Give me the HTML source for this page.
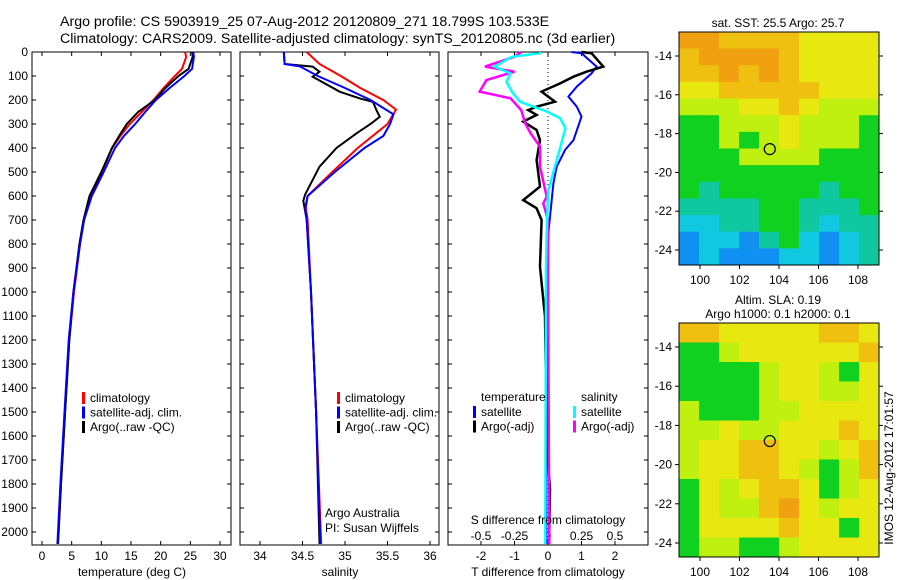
<!DOCTYPE html>
<html><head><meta charset="utf-8"><style>
body{margin:0;background:#fff;}
svg{display:block;font-family:"Liberation Sans",sans-serif;}
</style></head><body>
<svg id="c" width="900" height="580" xmlns="http://www.w3.org/2000/svg">
<text x="60" y="26" font-size="14.2">Argo profile: CS 5903919_25 07-Aug-2012 20120809_271 18.799S 103.533E</text>
<text x="60" y="43" font-size="14.2">Climatology: CARS2009. Satellite-adjusted climatology: synTS_20120805.nc (3d earlier)</text>
</svg>
<script>
// ---- data ----
const tDepth=[0,20,70,100,150,200,250,300,350,400,500,600,700,800,1000,1200,1500,1800,2050];
const tClim=[24.1,24.3,23.6,22.4,20.5,18.8,16.8,14.8,13.2,11.8,10.1,8.3,7.1,6.4,5.4,4.6,3.9,3.2,2.7];
const tSat=[25.5,25.6,25.3,24.0,21.5,19.2,17.4,15.7,13.8,12.3,10.4,8.4,7.1,6.4,5.3,4.5,3.8,3.1,2.6];
const tArgo=[25.3,25.4,24.7,23.0,20.8,19.0,16.2,14.3,13.0,11.8,10.0,8.0,7.0,6.3,5.3,4.6,3.9,3.2,2.7];
const sClimD=[0,50,100,150,200,240,300,400,500,600,650,700,1000,1500,2050];
const sClim=[34.55,34.7,34.95,35.18,35.45,35.6,35.5,35.15,34.85,34.56,34.54,34.56,34.6,34.66,34.72];
const sSatD=[0,50,60,100,150,200,260,300,350,400,500,600,650,700,1000,1500,2050];
const sSat=[34.28,34.29,34.47,34.68,35.0,35.3,35.57,35.53,35.45,35.23,34.88,34.56,34.53,34.55,34.6,34.66,34.71];
const sArgoD=[0,50,61,82,103,166,194,208,242,270,300,338,400,478,594,620,700,1000,1500,2050];
const sArgo=[34.28,34.29,34.62,34.7,34.62,34.94,35.18,35.33,35.37,35.41,35.3,35.14,34.9,34.7,34.53,34.51,34.55,34.6,34.66,34.7];
const dTSatD=[0,5,61,89,144,186,228,269,367,408,478,547,617,756,1033,1500,2050];
const dTSat=[0.7,1.0,1.45,1.3,0.86,0.61,0.86,1.0,0.76,0.51,0.26,0.16,0.11,0.01,-0.02,-0.05,-0.05];
const dTArgoD=[0,5,61,82,103,131,165,207,228,242,262,290,325,367,450,561,617,651,700,894,1033,1100,1400,1620,1820,2050];
const dTArgo=[1.0,1.3,1.65,1.15,0.76,0.36,-0.19,0.21,-0.34,-0.59,-0.34,-0.74,-0.34,-0.24,-0.34,-0.24,-0.74,-0.34,-0.19,-0.24,-0.14,-0.09,-0.06,-0.05,0.06,0.03];
const dSSatD=[0,5,20,61,89,124,165,207,248,276,318,401,500,583,756,900,2050];
const dSSat=[-0.06,-0.06,-0.27,-0.40,-0.28,-0.31,-0.27,-0.21,-0.01,0.09,0.13,0.09,0.04,0,-0.01,-0.015,-0.02];
const dSArgoD=[0,20,61,82,117,165,193,242,297,339,394,478,603,631,700,900,2050];
const dSArgo=[-0.2,-0.25,-0.47,-0.25,-0.46,-0.51,-0.28,-0.20,-0.17,-0.13,-0.06,-0.06,-0.01,-0.035,0,0,0.01];
const depthTicks=[0,100,200,300,400,500,600,700,800,900,1000,1100,1200,1300,1400,1500,1600,1700,1800,1900,2000];
const tTicks=[0,5,10,15,20,25,30];
const sTicks=[34,34.5,35,35.5,36];
const dTTicks=[-2,-1,0,1,2];
const dSTicks=[-0.5,-0.25,0,0.25,0.5];
const lonTicks=[100,102,104,106,108];
const latTicks=[-14,-16,-18,-20,-22,-24];
const sstGrid=[
[7,7,6,6,6,6,5,5,5,5],[6,7,7,7,7,6,5,5,5,5],[6,6,7,6,7,6,5,5,5,5],[5,5,6,6,6,6,6,5,5,5],
[4,4,4,5,5,6,5,4,4,4],[3,3,4,4,4,5,4,4,4,3],[3,3,4,3,4,5,4,4,4,3],[3,3,3,4,4,4,4,3,3,3],
[3,3,3,3,3,3,3,3,3,3],[3,2,3,3,3,3,3,2,3,3],[2,2,2,2,3,3,2,2,2,3],[1,1,2,2,3,3,2,1,2,2],
[0,1,1,0,2,3,1,0,1,2],[0,1,0,0,0,1,1,0,1,2]];
const slaGrid=[
[6,6,5,5,5,5,5,6,6,5],[3,3,4,5,5,5,5,5,5,6],[3,3,3,3,4,5,5,4,3,5],[3,3,3,3,4,5,5,4,4,5],
[4,3,3,3,4,4,5,5,5,5],[4,4,5,4,4,5,5,5,6,5],[4,5,5,6,6,5,5,4,5,6],[4,5,5,6,6,5,4,3,4,6],
[3,5,4,5,6,6,5,3,4,5],[3,5,4,4,6,7,5,4,5,5],[3,5,5,5,5,6,5,5,3,5],[3,4,4,3,3,4,5,5,5,5]];
const argoLon=103.533, argoLat=-18.799;
const cmap=['#1090f0','#10c8e0','#10c8a0','#10d020','#c0f010','#e8e810','#f0c010','#f0a010'];

const svg=document.getElementById('c');
const NS='http://www.w3.org/2000/svg';
function el(tag,attrs,parent){const e=document.createElementNS(NS,tag);for(const k in attrs)e.setAttribute(k,attrs[k]);(parent||svg).appendChild(e);return e;}
function txt(x,y,s,anchor,size){const t=el('text',{x:x,y:y,'font-size':size||12,'text-anchor':anchor||'start'});t.textContent=s;return t;}
const Y0=52, Ypx=0.24;
const yD=d=>Y0+d*Ypx;
function lin(d0,d1,p0,p1){return v=>p0+(v-d0)*(p1-p0)/(d1-d0);}
function frame(x0,x1,y0,y1,name){const r=el('rect',{x:x0,y:y0,width:x1-x0,height:y1-y0,fill:'none',stroke:'#000','stroke-width':1});}
function line(xs,ds,sx,color,name,w){
  const pts=xs.map((v,i)=>sx(v).toFixed(1)+','+yD(ds[i]).toFixed(1)).join(' ');
  const p=el('polyline',{points:pts,fill:'none',stroke:color,'stroke-width':w||2});
  
}
const P=[[32,231],[240,439],[448,648]];
const YB=545;
P.forEach((p,pi)=>{
  frame(p[0],p[1],Y0,YB,'panel-'+(pi+1)+'-frame');
  depthTicks.forEach(d=>{el('line',{x1:p[0],x2:p[0]+4,y1:yD(d),y2:yD(d),stroke:'#000'});el('line',{x1:p[1],x2:p[1]-4,y1:yD(d),y2:yD(d),stroke:'#000'});});
});
depthTicks.forEach(d=>{const t=txt(28,yD(d)+4,String(d),'end');});
const sxT=lin(0,30,42,220);
tTicks.forEach(v=>{el('line',{x1:sxT(v),x2:sxT(v),y1:YB,y2:YB-4,stroke:'#000'});el('line',{x1:sxT(v),x2:sxT(v),y1:Y0,y2:Y0+4,stroke:'#000'});const t=txt(sxT(v),560,String(v),'middle');});
line(tClim,tDepth,sxT,'#f00','temperature-climatology-line');
line(tArgo,tDepth,sxT,'#000','temperature-argo-line');
line(tSat,tDepth,sxT,'#00f','temperature-satellite-line');
{const t=txt(132,576,'temperature (deg C)','middle');}
const sxS=lin(34,36,260,430);
sTicks.forEach(v=>{el('line',{x1:sxS(v),x2:sxS(v),y1:YB,y2:YB-4,stroke:'#000'});el('line',{x1:sxS(v),x2:sxS(v),y1:Y0,y2:Y0+4,stroke:'#000'});const t=txt(sxS(v),560,String(v),'middle');});
line(sClim,sClimD,sxS,'#f00','salinity-climatology-line');
line(sArgo,sArgoD,sxS,'#000','salinity-argo-line');
line(sSat,sSatD,sxS,'#00f','salinity-satellite-line');
{const t=txt(340,576,'salinity','middle');}
{const t=txt(325,517,'Argo Australia');}
{const t=txt(325,532,'PI: Susan Wijffels');}
function legend(x,y,items,name){items.forEach((it,i)=>{const yy=y+i*14.5;el('rect',{x:x,y:yy-10,width:3,height:12,fill:it[1]});const t=txt(x+8,yy,it[0]);});}
legend(82,402,[['climatology','#f00'],['satellite-adj. clim.','#00f'],['Argo(..raw -QC)','#000']],'panel-1-legend-entry');
legend(337,402,[['climatology','#f00'],['satellite-adj. clim.','#00f'],['Argo(..raw -QC)','#000']],'panel-2-legend-entry');
const sxDT=lin(0,1,548,581.5), sxDS=lin(0,1,548,682);
el('line',{x1:548,x2:548,y1:Y0,y2:YB,stroke:'#000','stroke-dasharray':'1,3'});
dTTicks.forEach(v=>{el('line',{x1:sxDT(v),x2:sxDT(v),y1:YB,y2:YB-4,stroke:'#000'});el('line',{x1:sxDT(v),x2:sxDT(v),y1:Y0,y2:Y0+4,stroke:'#000'});const t=txt(sxDT(v),560,String(v),'middle');});
dSTicks.forEach(v=>{const t=txt(sxDS(v),540,String(v),'middle');});
line(dTSat,dTSatD,sxDT,'#00f','t-diff-satellite-line');
line(dTArgo,dTArgoD,sxDT,'#000','t-diff-argo-line',2.5);
line(dSArgo,dSArgoD,sxDS,'#f0f','s-diff-argo-line',2.5);
line(dSSat,dSSatD,sxDS,'#0ff','s-diff-satellite-line',2.5);
{const t=txt(548,524,'S difference from climatology','middle');}
{const t=txt(548,576,'T difference from climatology','middle');}
{const t=txt(481,401,'temperature');}
{const t=txt(581,401,'salinity');}
legend(473,416,[['satellite','#00f'],['Argo(-adj)','#000']],'t-diff-legend-entry');
legend(573,416,[['satellite','#0ff'],['Argo(-adj)','#f0f']],'s-diff-legend-entry');
function map(grid,y0,y1,title,name,latAt14,latAt24){
  const x0=679,x1=879;
  const sx=lin(100,108,700,858), sy=lin(-14,-24,latAt14,latAt24);
  const lon0=(x0-700)/19.75+100, lon1=(x1-700)/19.75+100;
  const lat0=-14+(y0-latAt14)/(latAt24-latAt14)*-10, lat1=-14+(y1-latAt14)/(latAt24-latAt14)*-10;
  const nr=grid.length,nc=grid[0].length;
  const dLon=(lon1-lon0)/nc, dLat=(lat1-lat0)/nr;
  grid.forEach((row,r)=>row.forEach((v,c)=>{
    const xa=sx(lon0+c*dLon), xb=sx(lon0+(c+1)*dLon), ya=sy(lat0+r*dLat), yb=sy(lat0+(r+1)*dLat);
    const cell=el('rect',{x:xa,y:ya,width:xb-xa+0.5,height:yb-ya+0.5,fill:cmap[v]});
    
  }));
  frame(x0,x1,y0,y1,name+'-frame');
  lonTicks.forEach(v=>{el('line',{x1:sx(v),x2:sx(v),y1:y1,y2:y1+4,stroke:'#000'});const t=txt(sx(v),y1+19,String(v),'middle');});
  latTicks.forEach(v=>{el('line',{x1:x0,x2:x0-4,y1:sy(v),y2:sy(v),stroke:'#000'});el('line',{x1:x1,x2:x1+4,y1:sy(v),y2:sy(v),stroke:'#000'});const t=txt(672,sy(v)+4,String(v),'end');});
  const m=el('circle',{cx:sx(argoLon),cy:sy(argoLat),r:5.5,fill:'none',stroke:'#000','stroke-width':1.2});
  
  title.forEach((s,i)=>{const t=txt(778,y0-5-(title.length-1-i)*14,s,'middle');});
}
map(sstGrid,32,265,['sat. SST: 25.5 Argo: 25.7'],'sst-map',56,250);
map(slaGrid,323,557,['Altim. SLA: 0.19','Argo h1000: 0.1 h2000: 0.1'],'sla-map',347,543);
{const t=txt(0,0,'IMOS 12-Aug-2012 17:01:57','middle');t.setAttribute('transform','translate(893,468) rotate(-90)');}
</script>
</body></html>
